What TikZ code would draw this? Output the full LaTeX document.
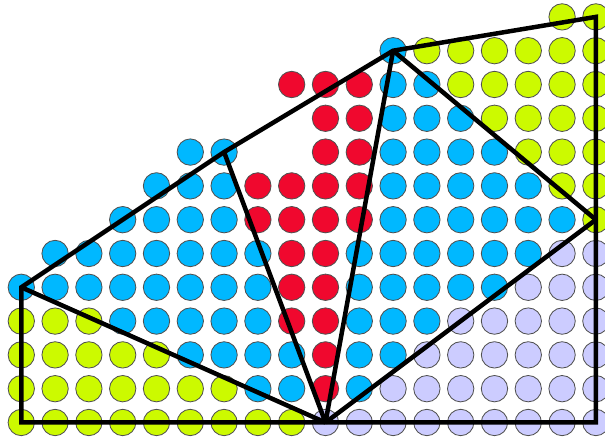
\documentclass[tikz,border=0pt]{standalone}
\usepackage{xcolor}
\usepackage{tikz}
\definecolor{dotyellow}{HTML}{CCFA00}
\definecolor{dotblue}{HTML}{00B8FF}
\definecolor{dotred}{HTML}{F0082E}
\definecolor{dotlilac}{HTML}{CCCCFF}
\definecolor{dotrim}{HTML}{505050}
\tikzset{
  dot/.style={draw=dotrim, line width=0.7pt},
  edge/.style={line width=3.8pt}
}
\begin{document}
\begin{tikzpicture}
        \useasboundingbox (-0.63,-0.52) rectangle (17.27,12.5);
        % rows of dots: row/first/last column
        \foreach \r/\a/\b in {0/0/8,1/0/6,2/0/4,3/0/2,6/17/17,7/16/17,8/15/17,9/14/17,10/13/17,11/12/17,12/16/17}
          \foreach \c in {\a,...,\b}
            \fill[dot, fill=dotyellow] (\c,\r) circle (0.39);
        \foreach \r/\a/\b in {0/9/17,1/11/17,2/12/17,3/13/17,4/15/17,5/16/17}
          \foreach \c in {\a,...,\b}
            \fill[dot, fill=dotlilac] (\c,\r) circle (0.39);
        \foreach \r/\a/\b in {1/7/8,1/10/10,2/5/8,2/10/11,3/3/7,3/10/12,4/0/7,4/10/14,5/1/7,5/10/15,6/3/6,6/11/16,7/4/6,7/11/15,8/5/6,8/11/14,9/11/13,10/11/12,11/11/11}
          \foreach \c in {\a,...,\b}
            \fill[dot, fill=dotblue] (\c,\r) circle (0.39);
        \foreach \r/\a/\b in {1/9/9,2/9/9,3/8/9,4/8/9,5/8/9,6/7/10,7/7/10,8/9/10,9/9/10,10/8/10}
          \foreach \c in {\a,...,\b}
            \fill[dot, fill=dotred] (\c,\r) circle (0.39);
        % corners of the mesh
        \coordinate (corner) at (0,0);
        \coordinate (left) at (0,4);
        \coordinate (mid) at (6,8);
        \coordinate (peak) at (11,11);
        \coordinate (topright) at (17,12);
        \coordinate (right) at (17,6);
        \coordinate (lowright) at (17,0);
        \coordinate (base) at (9,0);
        \draw[edge] (base) -- (corner) -- (left) -- (mid) -- (peak) -- (topright)
          -- (right) -- (lowright) -- cycle;
        \draw[edge] (left) -- (base);
        \draw[edge] (mid) -- (base);
        \draw[edge] (peak) -- (base);
        \draw[edge] (peak) -- (right);
        \draw[edge] (right) -- (base);
      \end{tikzpicture}
\end{document}
